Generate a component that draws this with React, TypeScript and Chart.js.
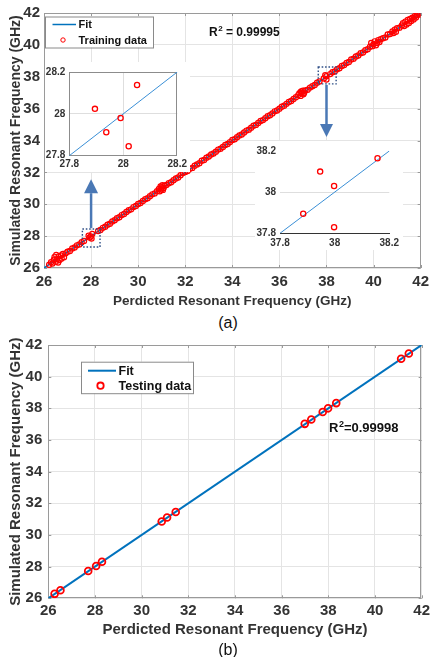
import React, { useEffect, useRef } from 'react';
import { Chart, registerables } from 'chart.js';

Chart.register(...registerables);

// ---------------- data ----------------
const axisRange = [26, 42];
const axisStep = 2;
const fitEnds = [26, 42];

const trainingPoints: [number, number][] = [
  [26.22, 26.2], [26.3, 26.36], [26.36, 26.28], [26.42, 26.52], [26.45, 26.7], [26.5, 26.4],
  [26.52, 26.82], [26.56, 26.55], [26.6, 26.34], [26.62, 26.72], [26.66, 26.5], [26.72, 26.78],
  [26.75, 26.6], [26.8, 26.88], [26.85, 26.68], [26.92, 26.92], [27.0, 27.02], [27.1, 27.07],
  [27.2, 27.22], [27.3, 27.29], [27.4, 27.42], [27.5, 27.48], [27.6, 27.62], [27.7, 27.7],
  [27.895, 28.024], [27.937, 27.912], [27.99, 27.98], [28.02, 27.845], [28.051, 28.138],
  [28.3, 28.32], [28.4, 28.38], [28.5, 28.52], [28.6, 28.59], [28.7, 28.72], [28.8, 28.78],
  [28.9, 28.92], [29.0, 29.0], [29.1, 29.12], [29.2, 29.18], [29.3, 29.32], [29.4, 29.39],
  [29.5, 29.51], [29.6, 29.62], [29.7, 29.68], [29.8, 29.82], [29.9, 29.89], [30.0, 30.02],
  [30.1, 30.08], [30.2, 30.21], [30.3, 30.32], [30.4, 30.38], [30.5, 30.5], [30.6, 30.62],
  [30.7, 30.68], [30.8, 30.82], [30.88, 30.96], [30.92, 30.82], [30.95, 31.12], [30.98, 30.92],
  [31.0, 31.05], [31.03, 31.2], [31.05, 30.9], [31.08, 31.02], [31.12, 31.16], [31.2, 31.21],
  [31.3, 31.32], [31.4, 31.38], [31.5, 31.51], [31.6, 31.62], [31.7, 31.68], [31.8, 31.82],
  [31.9, 31.96], [32.0, 32.02], [32.1, 32.08], [32.2, 32.22], [32.3, 32.28], [32.4, 32.42],
  [32.5, 32.5], [32.6, 32.58], [32.7, 32.73], [32.8, 32.78], [32.9, 32.92], [33.0, 33.0],
  [33.1, 33.12], [33.2, 33.18], [33.3, 33.3], [33.4, 33.43], [33.5, 33.48], [33.6, 33.6],
  [33.7, 33.72], [33.8, 33.78], [33.9, 33.9], [34.0, 34.03], [34.1, 34.08], [34.2, 34.2],
  [34.3, 34.32], [34.4, 34.38], [34.5, 34.5], [34.6, 34.62], [34.7, 34.68], [34.8, 34.8],
  [34.9, 34.93], [35.0, 34.98], [35.1, 35.1], [35.2, 35.22], [35.3, 35.28], [35.4, 35.4],
  [35.5, 35.52], [35.6, 35.58], [35.7, 35.7], [35.8, 35.83], [35.9, 35.88], [36.0, 36.0],
  [36.1, 36.12], [36.2, 36.18], [36.3, 36.3], [36.4, 36.42], [36.5, 36.48], [36.6, 36.6],
  [36.7, 36.72], [36.8, 36.85], [36.85, 36.97], [36.9, 36.8], [36.92, 37.08], [36.95, 36.98],
  [37.0, 37.12], [37.02, 36.9], [37.05, 37.0], [37.1, 37.14], [37.2, 37.18], [37.3, 37.32],
  [37.4, 37.4], [37.5, 37.48], [37.6, 37.62], [37.7, 37.7],
  [37.885, 37.895], [37.947, 38.1], [37.998, 38.03], [37.998, 37.83], [38.157, 38.165],
  [38.25, 38.28], [38.35, 38.33], [38.45, 38.47], [38.55, 38.53], [38.65, 38.68], [38.75, 38.73],
  [38.85, 38.87], [38.95, 38.93], [39.05, 39.08], [39.15, 39.13], [39.25, 39.27], [39.35, 39.33],
  [39.45, 39.48], [39.55, 39.52], [39.65, 39.67], [39.75, 39.73], [39.85, 39.88], [39.9, 40.12],
  [39.95, 39.92], [40.0, 40.05], [40.05, 40.22], [40.1, 39.98], [40.15, 40.12], [40.2, 40.3],
  [40.25, 40.18], [40.3, 40.35], [40.4, 40.42], [40.5, 40.46], [40.6, 40.65], [40.7, 40.68],
  [40.8, 40.84], [40.85, 40.74], [40.9, 40.96], [40.95, 40.82], [41.0, 41.05], [41.1, 41.08],
  [41.2, 41.22], [41.25, 41.36], [41.3, 41.18], [41.35, 41.46], [41.4, 41.28], [41.45, 41.56],
  [41.5, 41.38], [41.55, 41.62], [41.6, 41.5], [41.65, 41.7], [41.7, 41.6], [41.75, 41.8],
  [41.8, 41.72], [41.85, 41.88], [41.9, 41.95], [41.95, 41.9], [41.98, 42.0],
];

const testingPredicted = [26.27, 26.52, 27.71, 28.05, 28.3, 30.86, 31.09, 31.46, 36.99, 37.27, 37.76, 37.99, 38.34, 41.12, 41.45];
const testingSimulated = [26.28, 26.51, 27.72, 28.04, 28.31, 30.85, 31.1, 31.45, 37.02, 37.29, 37.77, 38.0, 38.33, 41.13, 41.46];

const zoomRangeA = [27.8, 28.2];
const zoomRangeB = [37.8, 38.2];
const zoomTicksA = [27.8, 28, 28.2];
const zoomTicksB = [37.8, 38, 38.2];

const r2Training = '0.99995';
const r2Testing = '0.99998';

// highlight boxes [xMin, xMax, yMin, yMax] and arrows [x, yFrom, yTo] in data units
const highlightBoxA = [27.63, 28.38, 27.32, 28.45];
const highlightBoxB = [37.65, 38.41, 37.55, 38.61];
const arrowA = [28, 28.45, 31.57];
const arrowB = [38, 37.55, 34.22];

// ---------------- styles ----------------
const FONT = '"Liberation Sans", Arial, Helvetica, sans-serif';
const TICK_COLOR = '#333333';
const GRID_COLOR = '#e4e4e4';
const FRAME_COLOR = '#9a9a9a';
const FIT_COLOR = '#0072BD';
const DATA_COLOR = '#ff0000';
const ARROW_COLOR = '#4a78b5';
const DASH_COLOR = '#2f4f86';

const fmt = (v: any) => String(Math.round(Number(v) * 10) / 10);

function framePlugin(color: string, tickLen: number) {
  return {
    id: 'frame',
    beforeDatasetsDraw(chart: any) {
      const { ctx, chartArea: a, scales } = chart;
      ctx.save();
      ctx.strokeStyle = color;
      ctx.lineWidth = 1;
      ctx.strokeRect(Math.round(a.left) + 0.5, Math.round(a.top) + 0.5, Math.round(a.right - a.left) - 1, Math.round(a.bottom - a.top) - 1);
      if (tickLen > 0) {
        ctx.beginPath();
        scales.x.ticks.forEach((t: any) => {
          const px = Math.round(scales.x.getPixelForValue(t.value)) + 0.5;
          ctx.moveTo(px, a.bottom); ctx.lineTo(px, a.bottom - tickLen);
          ctx.moveTo(px, a.top); ctx.lineTo(px, a.top + tickLen);
        });
        scales.y.ticks.forEach((t: any) => {
          const py = Math.round(scales.y.getPixelForValue(t.value)) + 0.5;
          ctx.moveTo(a.left, py); ctx.lineTo(a.left + tickLen, py);
          ctx.moveTo(a.right, py); ctx.lineTo(a.right - tickLen, py);
        });
        ctx.stroke();
      }
      ctx.restore();
    },
  };
}

function drawArrow(ctx: CanvasRenderingContext2D, x: number, y0: number, y1: number, headLen: number, headW: number) {
  const dir = Math.sign(y1 - y0);
  ctx.strokeStyle = ARROW_COLOR;
  ctx.fillStyle = ARROW_COLOR;
  ctx.lineWidth = 2.5;
  ctx.beginPath();
  ctx.moveTo(x, y0);
  ctx.lineTo(x, y1 - dir * headLen);
  ctx.stroke();
  ctx.beginPath();
  ctx.moveTo(x, y1);
  ctx.lineTo(x - headW / 2, y1 - dir * headLen);
  ctx.lineTo(x + headW / 2, y1 - dir * headLen);
  ctx.closePath();
  ctx.fill();
}

function drawDashedBox(chart: any, b: number[]) {
  const { ctx, scales } = chart;
  const x0 = scales.x.getPixelForValue(b[0]);
  const x1 = scales.x.getPixelForValue(b[1]);
  const y0 = scales.y.getPixelForValue(b[3]);
  const y1 = scales.y.getPixelForValue(b[2]);
  ctx.save();
  ctx.strokeStyle = DASH_COLOR;
  ctx.lineWidth = 1.4;
  ctx.setLineDash([1.6, 1.8]);
  ctx.strokeRect(x0, y0, x1 - x0, y1 - y0);
  ctx.restore();
}

function drawR2(ctx: CanvasRenderingContext2D, x: number, y: number, size: number, value: string, spaced: boolean) {
  ctx.save();
  ctx.fillStyle = '#111';
  ctx.textBaseline = 'alphabetic';
  ctx.textAlign = 'left';
  ctx.font = `bold ${size}px ${FONT}`;
  ctx.fillText('R', x, y);
  let w = ctx.measureText('R').width + 0.5;
  ctx.font = `bold ${Math.round(size * 0.66)}px ${FONT}`;
  ctx.fillText('2', x + w, y - size * 0.42);
  w += ctx.measureText('2').width;
  ctx.font = `bold ${size}px ${FONT}`;
  ctx.fillText(spaced ? ' = ' + value : '=' + value, x + w, y);
  ctx.restore();
}

type LegendSpec = {
  x: number; y: number; w: number; h: number; size: number;
  row1: number; row2: number; lineX0: number; lineX1: number; textX: number;
  markerX: number; markerR: number; markerW: number;
};

function drawLegend(chart: any, s: LegendSpec) {
  const { ctx } = chart;
  const ds = chart.data.datasets;
  ctx.save();
  ctx.fillStyle = '#ffffff';
  ctx.fillRect(s.x, s.y, s.w, s.h);
  ctx.strokeStyle = '#8a8a8a';
  ctx.lineWidth = 1;
  ctx.strokeRect(s.x + 0.5, s.y + 0.5, s.w, s.h);
  ctx.font = `bold ${s.size}px ${FONT}`;
  ctx.textBaseline = 'middle';
  ctx.fillStyle = '#111';
  ctx.strokeStyle = ds[0].borderColor;
  ctx.lineWidth = ds[0].borderWidth;
  ctx.beginPath();
  ctx.moveTo(s.lineX0, s.row1);
  ctx.lineTo(s.lineX1, s.row1);
  ctx.stroke();
  ctx.fillText(ds[0].label, s.textX, s.row1 + 0.5);
  ctx.strokeStyle = ds[1].borderColor;
  ctx.lineWidth = s.markerW;
  ctx.beginPath();
  ctx.arc(s.markerX, s.row2, s.markerR, 0, Math.PI * 2);
  ctx.stroke();
  ctx.fillText(ds[1].label, s.textX, s.row2 + 0.5);
  ctx.restore();
}

function mainScales(o: {
  yWidth: number; xHeight: number; tickSize: number; xPad: number; yPad: number;
  xTitleSize: number; yTitleSize: number; xTitlePad: number; yTitlePad: number;
}) {
  const tickFont = { family: FONT, size: o.tickSize, weight: 'bold' as const };
  return {
    x: {
      type: 'linear' as const,
      min: axisRange[0], max: axisRange[1],
      ticks: { stepSize: axisStep, font: tickFont, color: TICK_COLOR, padding: o.xPad, callback: fmt, maxRotation: 0 },
      grid: { color: GRID_COLOR, drawTicks: false },
      border: { display: false },
      title: {
        display: true, text: 'Perdicted Resonant Frequency (GHz)', color: TICK_COLOR,
        font: { family: FONT, size: o.xTitleSize, weight: 'bold' as const }, padding: { top: 0, bottom: o.xTitlePad },
      },
      afterFit: (s: any) => { s.height = o.xHeight; },
    },
    y: {
      type: 'linear' as const,
      min: axisRange[0], max: axisRange[1],
      ticks: { stepSize: axisStep, font: tickFont, color: TICK_COLOR, padding: o.yPad, callback: fmt },
      grid: { color: GRID_COLOR, drawTicks: false },
      border: { display: false },
      title: {
        display: true, text: 'Simulated Resonant Frequency (GHz)', color: TICK_COLOR,
        font: { family: FONT, size: o.yTitleSize, weight: 'bold' as const }, padding: { top: o.yTitlePad, bottom: 0 },
      },
      afterFit: (s: any) => { s.width = o.yWidth; },
    },
  };
}

function useChart(ref: React.RefObject<HTMLCanvasElement>, build: () => any) {
  useEffect(() => {
    if (!ref.current) return;
    const chart = new Chart(ref.current, build());
    return () => chart.destroy();
  }, []);
}

const fitData = fitEnds.map((v) => ({ x: v, y: v }));
const trainingData = trainingPoints.map(([x, y]) => ({ x, y }));
const testingData = testingPredicted.map((x, i) => ({ x, y: testingSimulated[i] }));

function TopChart() {
  const ref = useRef<HTMLCanvasElement>(null);
  useChart(ref, () => ({
    type: 'scatter',
    data: {
      datasets: [
        { label: 'Fit', data: fitData, showLine: true, borderColor: FIT_COLOR, borderWidth: 1.5, pointRadius: 0, order: 1 },
        {
          label: 'Training data', data: trainingData, showLine: false, borderColor: DATA_COLOR,
          backgroundColor: 'rgba(0,0,0,0)', pointRadius: 2.6, pointBorderWidth: 1.2, order: 0,
        },
      ],
    },
    options: {
      responsive: false, animation: false, events: [],
      layout: { padding: { top: 13, right: 7, left: 0, bottom: 0 } },
      plugins: { legend: { display: false }, tooltip: { enabled: false }, title: { display: false } },
      scales: mainScales({ yWidth: 44, xHeight: 44, tickSize: 15, xPad: 5, yPad: 4, xTitleSize: 13.5, yTitleSize: 14, xTitlePad: 2.5, yTitlePad: 8 }),
    },
    plugins: [
      framePlugin(FRAME_COLOR, 3),
      {
        id: 'overlay',
        afterDatasetsDraw(chart: any) {
          const { ctx, scales } = chart;
          drawDashedBox(chart, highlightBoxA);
          drawDashedBox(chart, highlightBoxB);
          ctx.save();
          drawArrow(ctx, scales.x.getPixelForValue(arrowA[0]), scales.y.getPixelForValue(arrowA[1]) - 1, scales.y.getPixelForValue(arrowA[2]), 14, 14);
          drawArrow(ctx, scales.x.getPixelForValue(arrowB[0]), scales.y.getPixelForValue(arrowB[1]) + 1, scales.y.getPixelForValue(arrowB[2]), 13, 13);
          ctx.restore();
          drawLegend(chart, {
            x: 45, y: 16.5, w: 108, h: 31, size: 11, row1: 24.5, row2: 40,
            lineX0: 52.5, lineX1: 76, textX: 78.5, markerX: 63, markerR: 2.2, markerW: 1,
          });
          drawR2(ctx, 209, 36, 12, r2Training, true);
        },
      },
    ],
  }));
  return <canvas ref={ref} width={434} height={312} style={{ position: 'absolute', left: 0, top: 0, width: 434, height: 312 }} />;
}

function ZoomChart(props: {
  range: number[]; ticks: number[]; left: number; top: number; w: number; h: number;
  padTop: number; padRight: number; yWidth: number; xHeight: number; boxed: boolean;
}) {
  const ref = useRef<HTMLCanvasElement>(null);
  const { range, ticks } = props;
  const inside = trainingPoints
    .filter(([x, y]) => x >= range[0] && x <= range[1] && y >= range[0] && y <= range[1])
    .map(([x, y]) => ({ x, y }));
  const mid = ticks[1];
  useChart(ref, () => ({
    type: 'scatter',
    data: {
      datasets: [
        { label: 'Fit', data: fitData, showLine: true, borderColor: '#3a8fd6', borderWidth: 1, pointRadius: 0, order: 1 },
        {
          label: 'Training data', data: inside, showLine: false, borderColor: DATA_COLOR,
          backgroundColor: 'rgba(0,0,0,0)', pointRadius: 2.6, pointBorderWidth: 1.3, order: 0,
        },
      ],
    },
    options: {
      responsive: false, animation: false, events: [],
      layout: { padding: { top: props.padTop, right: props.padRight, left: 0, bottom: 0 } },
      plugins: {
        legend: { display: false }, tooltip: { enabled: false },
      },
      scales: {
        x: {
          type: 'linear', min: range[0], max: range[1],
          afterBuildTicks: (s: any) => { s.ticks = ticks.map((v) => ({ value: v })); },
          ticks: { font: { family: FONT, size: 10, weight: 'bold' }, color: TICK_COLOR, padding: props.boxed ? 3 : 4, callback: fmt, maxRotation: 0, autoSkip: false },
          grid: {
            display: props.boxed, drawTicks: false,
            color: (c: any) => (c.tick && Math.abs(c.tick.value - mid) < 1e-6 ? '#dedede' : 'rgba(0,0,0,0)'),
          },
          border: props.boxed ? { display: false } : { display: true, color: '#333', width: 1 },
          afterFit: (s: any) => { s.height = props.xHeight; },
        },
        y: {
          type: 'linear', min: range[0], max: range[1],
          afterBuildTicks: (s: any) => { s.ticks = ticks.map((v) => ({ value: v })); },
          ticks: { font: { family: FONT, size: 10, weight: 'bold' }, color: TICK_COLOR, padding: 4, callback: fmt, autoSkip: false },
          grid: {
            drawTicks: false,
            color: (c: any) => (c.tick && Math.abs(c.tick.value - mid) < 1e-6 ? '#dedede' : 'rgba(0,0,0,0)'),
          },
          border: { display: false },
          afterFit: (s: any) => { s.width = props.yWidth; },
        },
      },
    },
    plugins: props.boxed ? [framePlugin('#8c8c8c', 0)] : [],
  }));
  return (
    <canvas
      ref={ref}
      width={props.w}
      height={props.h}
      style={{ position: 'absolute', left: props.left, top: props.top, width: props.w, height: props.h, background: '#fff' }}
    />
  );
}

function BottomChart() {
  const ref = useRef<HTMLCanvasElement>(null);
  useChart(ref, () => ({
    type: 'scatter',
    data: {
      datasets: [
        { label: 'Fit', data: fitData, showLine: true, borderColor: FIT_COLOR, borderWidth: 2, pointRadius: 0, order: 1 },
        {
          label: 'Testing data', data: testingData, showLine: false, borderColor: DATA_COLOR,
          backgroundColor: 'rgba(0,0,0,0)', pointRadius: 3.4, pointBorderWidth: 1.8, order: 0,
        },
      ],
    },
    options: {
      responsive: false, animation: false, events: [],
      layout: { padding: { top: 13.3, right: 6, left: 0, bottom: 0 } },
      plugins: { legend: { display: false }, tooltip: { enabled: false } },
      scales: mainScales({ yWidth: 48.3, xHeight: 43.7, tickSize: 15, xPad: 4, yPad: 6, xTitleSize: 15, yTitleSize: 15, xTitlePad: 3, yTitlePad: 7 }),
    },
    plugins: [
      framePlugin(FRAME_COLOR, 3),
      {
        id: 'overlay',
        afterDatasetsDraw(chart: any) {
          const { ctx } = chart;
          drawLegend(chart, {
            x: 81, y: 31.7, w: 112, h: 31.5, size: 12.5, row1: 40.7, row2: 55.7,
            lineX0: 88, lineX1: 116, textX: 118.5, markerX: 100.5, markerR: 3.2, markerW: 1.8,
          });
          drawR2(ctx, 329, 102, 13, r2Testing, false);
        },
      },
    ],
  }));
  return <canvas ref={ref} width={434} height={312} style={{ position: 'absolute', left: 0, top: 330, width: 434, height: 312 }} />;
}

const captionStyle: React.CSSProperties = {
  position: 'absolute', left: 208, width: 40, textAlign: 'center',
  font: `16px ${FONT}`, color: '#111', lineHeight: '18px',
};

export default function App() {
  return (
    <div style={{ position: 'absolute', left: 0, top: 0, width: 434, height: 657, background: '#fff', overflow: 'hidden' }}>
      <TopChart />
      <ZoomChart range={zoomRangeA} ticks={zoomTicksA} left={45} top={62} w={145} h={110}
        padTop={9} padRight={11.7} yWidth={24.3} xHeight={16.3} boxed={true} />
      <ZoomChart range={zoomRangeB} ticks={zoomTicksB} left={255} top={141} w={148} h={109}
        padTop={9} padRight={11.3} yWidth={25} xHeight={16.7} boxed={false} />
      <div style={{ ...captionStyle, top: 314 }}>(a)</div>
      <BottomChart />
      <div style={{ ...captionStyle, top: 641 }}>(b)</div>
    </div>
  );
}
